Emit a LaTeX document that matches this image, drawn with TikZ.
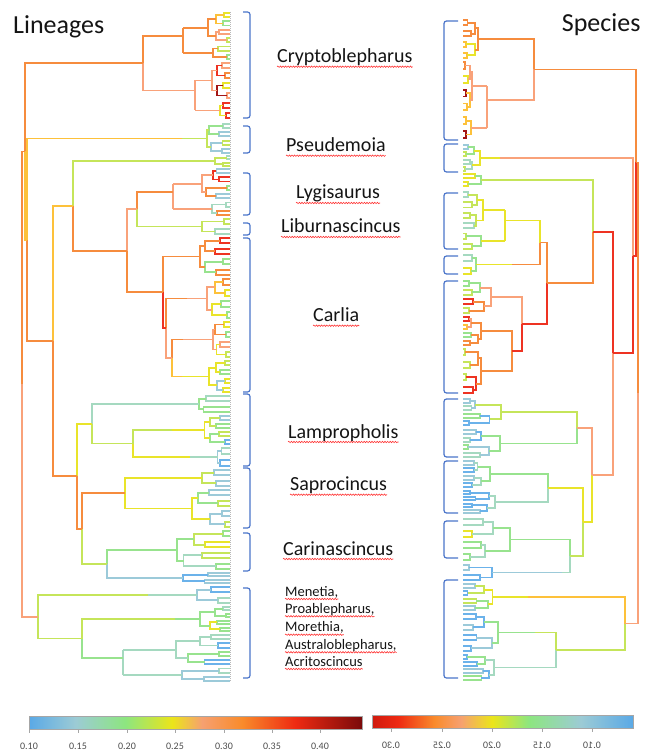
\documentclass[tikz,border=0pt]{standalone}
\usepackage{fontspec}
\setmainfont{Carlito}
\usetikzlibrary{decorations.pathmorphing}

\definecolor{tdr}{HTML}{A31515}
\definecolor{tr}{HTML}{EE3322}
\definecolor{tor}{HTML}{F68C3E}
\definecolor{tsa}{HTML}{F9A27A}
\definecolor{tyo}{HTML}{FDC13A}
\definecolor{ty}{HTML}{E9E42A}
\definecolor{tyg}{HTML}{C5E55A}
\definecolor{tg}{HTML}{98E38E}
\definecolor{tgc}{HTML}{A5D9C0}
\definecolor{tc}{HTML}{9CCAD9}
\definecolor{tb}{HTML}{6BB2EA}
\definecolor{bracecol}{HTML}{4A74C9}
\definecolor{cbb}{HTML}{5AA9E6}
\definecolor{cbc}{HTML}{9CCBD5}
\definecolor{cbg}{HTML}{8DE67F}
\definecolor{cby}{HTML}{EBE51A}
\definecolor{cbs}{HTML}{F6A070}
\definecolor{cbo}{HTML}{F98B2B}
\definecolor{cbr}{HTML}{EE2A12}
\definecolor{cbd}{HTML}{7A0A0A}
\definecolor{cbdr}{HTML}{D01A0E}

\pgfdeclarehorizontalshading{linbar}{100bp}{color(0bp)=(cbb); color(25bp)=(cbb);
  color(32bp)=(cbc); color(39.5bp)=(cbg); color(46.5bp)=(cby); color(51bp)=(cbs);
  color(57bp)=(cbo); color(65bp)=(cbr); color(75bp)=(cbd); color(100bp)=(cbd)}
\pgfdeclarehorizontalshading{spbar}{100bp}{color(0bp)=(cbdr); color(25bp)=(cbdr);
  color(30bp)=(cbr); color(37bp)=(cbo); color(42bp)=(cbs); color(48bp)=(cby);
  color(55bp)=(cbg); color(65bp)=(cbc); color(75bp)=(cbb); color(100bp)=(cbb)}

\pgfmathdeclarerandomlist{crypto}{{tg}{ty}{tyo}{tsa}{tor}{tyg}{tg}}
\pgfmathdeclarerandomlist{cryptoR}{{tr}{tor}{tdr}{tsa}{ty}{tyo}}
\pgfmathdeclarerandomlist{pseud}{{tg}{tgc}{tc}{tyg}}
\pgfmathdeclarerandomlist{lyg}{{tg}{tgc}{tor}{tr}{ty}{tc}}
\pgfmathdeclarerandomlist{warm}{{tor}{tsa}{ty}{tyg}{tg}{tr}{tyo}}
\pgfmathdeclarerandomlist{cool}{{tc}{tb}{tg}{tgc}}
\pgfmathdeclarerandomlist{mixed}{{ty}{tg}{tc}{tb}{tyg}}
\pgfmathdeclarerandomlist{green}{{tg}{tyg}{ty}{tgc}}
\pgfmathdeclarerandomlist{blue}{{tb}{tc}}

% four leaves: two cherries and their parent
\newcommand\cquad[3]{%
  \pgfmathsetmacro\qya{#1}\pgfmathsetmacro\qyb{#1+\clh}%
  \pgfmathsetmacro\qyc{#1+2*\clh}\pgfmathsetmacro\qyd{#1+3*\clh}%
  \pgfmathsetmacro\qda{\cDD*(0.05+0.22*rnd)}%
  \pgfmathsetmacro\qdb{\cDD*(0.05+0.22*rnd)}%
  \pgfmathsetmacro\qdq{max(\qda,\qdb)+\cDD*(0.04+0.18*rnd)}%
  \pgfmathsetmacro\qxa{#2-(\csg)*\qda}%
  \pgfmathsetmacro\qxb{#2-(\csg)*\qdb}%
  \pgfmathsetmacro\qxq{#2-(\csg)*\qdq}%
  \pgfmathsetmacro\qma{#1+0.5*\clh}\pgfmathsetmacro\qmb{#1+2.5*\clh}%
  \pgfmathsetmacro\qmq{#1+1.5*\clh}%
  \pgfmathrandomitem{\qca}{#3}\pgfmathrandomitem{\qcb}{#3}\pgfmathrandomitem{\qcc}{#3}%
  \draw[br,color=\qca] (#2,\qya) -| (\qxa,\qyb) -- (#2,\qyb);
  \draw[br,color=\qcb] (#2,\qyc) -| (\qxb,\qyd) -- (#2,\qyd);
  \draw[br,color=\qcc] (\qxa,\qma) -| (\qxq,\qmb) -- (\qxb,\qmb);
  \xdef\gdq{\qdq}\xdef\gqm{\qmq}%
}

% clade: name, tip x, first leaf y, last leaf y, node x, quads, palette, colour
\newcommand\clade[8]{%
  \pgfmathsetmacro\clh{(#4-#3)/(4*#6-1)}%
  \pgfmathsetmacro\cDD{abs(#5-#2)}%
  \pgfmathsetmacro\csg{sign(#2-#5)}%
  \pgfmathtruncatemacro\clast{(#6+1)/2-1}%
  \foreach \oc in {0,...,\clast}{%
    \pgfmathtruncatemacro\qqa{2*\oc}%
    \pgfmathtruncatemacro\qqb{2*\oc+1}%
    \cquad{#3+4*\qqa*\clh}{#2}{#7}%
    \let\dA\gdq\let\mA\gqm
    \ifnum\qqb<#6\relax
      \cquad{#3+4*\qqb*\clh}{#2}{#7}%
      \let\dB\gdq\let\mB\gqm
      \pgfmathsetmacro\dO{max(\dA,\dB)+\cDD*(0.04+0.16*rnd)}%
      \pgfmathsetmacro\mO{(\mA+\mB)/2}%
      \pgfmathsetmacro\xA{#2-(\csg)*\dA}\pgfmathsetmacro\xB{#2-(\csg)*\dB}%
      \pgfmathsetmacro\xO{#2-(\csg)*\dO}%
      \draw[br,color=#8] (\xA,\mA) -| (\xO,\mB) -- (\xB,\mB);
    \else
      \pgfmathsetmacro\xO{#2-(\csg)*\dA}\let\mO\mA
    \fi
    \draw[br,color=#8] (\xO,\mO) -- (#5,\mO);
  }%
  \ifnum#6>1\relax
    \pgfmathsetmacro\yfa{#3+3.5*\clh}%
    \ifodd#6\relax\pgfmathsetmacro\yfb{#3+(4*#6-2.5)*\clh}\else\pgfmathsetmacro\yfb{#3+(4*#6-4.5)*\clh}\fi
    \draw[br,color=#8] (#5,\yfa) -- (#5,\yfb);
  \fi
  \coordinate (#1) at (#5,{(#3+#4)/2});
}

\newcommand\joinc[3]{\draw[br,color=#3] (#1) -| (#2);}

\begin{document}
\begin{tikzpicture}[x=1pt,y=-1pt,
  br/.style={line width=1.9pt},
  brk/.style={draw=bracecol,line width=1.2pt,rounded corners=2.5pt},
  lbl/.style={anchor=base west,inner sep=0pt,text=black!92,font=\fontsize{20}{24}\selectfont},
  menlbl/.style={lbl,font=\fontsize{14.5}{17}\selectfont},
  ttl/.style={lbl,font=\fontsize{26}{30}\selectfont},
  squig/.style={draw=red!80,line width=0.6pt,decorate,decoration={snake,amplitude=0.7pt,segment length=2.6pt}},
  ticklbl/.style={inner sep=0pt,text=black!70,font=\fontsize{10}{11}\selectfont}]
\useasboundingbox (0,0) rectangle (653,751);
\pgfmathsetseed{12}

\node[ttl] (lin) at (13,33.3) {Lineages};
\node[ttl] (spe) at (561.7,31.7) {Species};

% lineages tree
\draw[gray!55,dash pattern=on 1pt off 1pt,line width=0.7pt] (230,12) -- (230,681);
\clade{crA}{230}{13}{59}{183}{3}{crypto}{tor}
\clade{crB}{230}{63}{118}{195}{3}{cryptoR}{tsa}
\clade{ps}{230}{124}{153}{182}{2}{pseud}{tyg}
\clade{yg}{230}{156}{166}{172}{1}{green}{tyg}
\clade{lyg}{230}{169}{215}{173}{3}{lyg}{tsa}
\clade{lib}{230}{219}{234}{168}{1}{green}{tyg}
\clade{caA}{230}{238}{275}{172}{2}{warm}{tor}
\clade{caB}{230}{279}{318}{187}{2}{warm}{tsa}
\clade{caC}{230}{322}{357}{183}{2}{warm}{tsa}
\clade{caD}{230}{361}{392}{182}{2}{mixed}{ty}
\clade{laA}{230}{396}{412}{122}{1}{cool}{tgc}
\clade{laB}{230}{416}{444}{172}{2}{mixed}{ty}
\clade{laC}{230}{448}{466}{190}{1}{cool}{tgc}
\clade{saA}{230}{470}{486}{155}{1}{mixed}{ty}
\clade{saB}{230}{490}{527}{148}{2}{mixed}{ty}
\clade{ciA}{230}{531}{569}{125}{2}{green}{tg}
\clade{ciB}{230}{573}{583}{112}{1}{blue}{tc}
\clade{meA}{230}{587}{603}{148}{1}{cool}{tgc}
\clade{meB}{230}{607}{631}{175}{2}{green}{tg}
\clade{meC}{230}{635}{681}{123}{3}{cool}{tgc}

\coordinate (c0) at (143,63.25);
\coordinate (ll) at (137,209.25);
\coordinate (cacd) at (172,358);
\coordinate (cabcd) at (166,328.25);
\coordinate (ca) at (163,292.4);
\coordinate (n127) at (127,250.8);
\coordinate (n73) at (73,205.9);
\coordinate (lbc) at (133,443.5);
\coordinate (la) at (92,423.75);
\coordinate (sa) at (125,493.25);
\coordinate (ci) at (107,564);
\coordinate (n82) at (82,528.6);
\coordinate (n77) at (77,476.2);
\coordinate (n53) at (53,341);
\coordinate (n26) at (27,239.75);
\coordinate (ntop) at (25,151.5);
\coordinate (mbc) at (82,638.5);
\coordinate (me) at (38,616.75);
\coordinate (root) at (22,384);
\joinc{crA}{c0}{tor}\joinc{crB}{c0}{tsa}
\joinc{lyg}{ll}{tor}\joinc{lib}{ll}{tyg}
\joinc{caC}{cacd}{tor}\joinc{caD}{cacd}{tyo}
\joinc{caB}{cabcd}{tor}\joinc{cacd}{cabcd}{tsa}
\joinc{caA}{ca}{tor}\joinc{cabcd}{ca}{tr}
\joinc{ll}{n127}{tsa}\joinc{ca}{n127}{tor}
\joinc{yg}{n73}{tyg}\joinc{n127}{n73}{tor}
\joinc{laB}{lbc}{tyg}\joinc{laC}{lbc}{ty}
\joinc{laA}{la}{tgc}\joinc{lbc}{la}{tyg}
\joinc{saA}{sa}{ty}\joinc{saB}{sa}{ty}
\joinc{ciA}{ci}{tg}\joinc{ciB}{ci}{tc}
\joinc{sa}{n82}{tor}\joinc{ci}{n82}{tyg}
\joinc{la}{n77}{ty}\joinc{n82}{n77}{tor}
\joinc{n73}{n53}{tyo}\joinc{n77}{n53}{tor}
\joinc{ps}{n26}{tyo}\joinc{n53}{n26}{tor}
\joinc{c0}{ntop}{tor}\joinc{n26}{ntop}{tyo}
\joinc{meB}{mbc}{tyg}\joinc{meC}{mbc}{tg}
\joinc{meA}{me}{tyg}\joinc{mbc}{me}{tyg}
\joinc{ntop}{root}{tor}\joinc{me}{root}{tsa}

% species tree
\clade{rcrA}{463}{20}{58}{500}{2}{crypto}{tor}
\clade{rcrB}{463}{62}{138}{487}{3}{cryptoR}{tsa}
\clade{rps}{463}{145}{171}{500}{2}{pseud}{ty}
\clade{ryg}{463}{174}{186}{508}{1}{green}{tyg}
\clade{rlyg}{463}{192}{249}{505}{3}{green}{ty}
\clade{rlib}{463}{255}{274}{512}{1}{green}{ty}
\clade{rcaA}{463}{281}{313}{517}{2}{warm}{tsa}
\clade{rcaB}{463}{317}{345}{498}{2}{warm}{tor}
\clade{rcaC}{463}{349}{393}{505}{2}{warm}{tor}
\clade{rlaA}{463}{399}{425}{552}{2}{cool}{tyg}
\clade{rlaB}{463}{430}{457}{545}{2}{cool}{tg}
\clade{rsaA}{463}{461}{487}{523}{2}{cool}{tg}
\clade{rsaB}{463}{491}{513}{528}{2}{blue}{tgc}
\clade{rciA}{463}{519}{560}{548}{2}{green}{tg}
\clade{rciB}{463}{565}{580}{562}{1}{blue}{tc}
\clade{rmeA}{463}{584}{610}{528}{2}{mixed}{ty}
\clade{rmeB}{463}{614}{651}{535}{2}{cool}{tg}
\clade{rmeC}{463}{655}{680}{538}{2}{cool}{tgc}

\coordinate (rc0) at (534,69.5);
\coordinate (rn540) at (540,242.5);
\coordinate (rcabc) at (512,351);
\coordinate (rca) at (522,324);
\coordinate (rn547) at (547,283.25);
\coordinate (rn593) at (593,231.6);
\coordinate (rla) at (577,427.75);
\coordinate (rsa) at (548,488);
\coordinate (rci) at (570,556);
\coordinate (rn587) at (583,522);
\coordinate (rn592) at (592,474.9);
\coordinate (rn613) at (613,353.25);
\coordinate (rn1) at (633,255.6);
\coordinate (rn2) at (636,162.5);
\coordinate (rmbc) at (556,650);
\coordinate (rme) at (625,623.5);
\coordinate (rroot) at (638,393);
\joinc{rcrA}{rc0}{tor}\joinc{rcrB}{rc0}{tsa}
\joinc{rlyg}{rn540}{ty}\joinc{rlib}{rn540}{tor}
\joinc{rcaB}{rcabc}{tor}\joinc{rcaC}{rcabc}{tor}
\joinc{rcaA}{rca}{tsa}\joinc{rcabc}{rca}{tr}
\joinc{rn540}{rn547}{tor}\joinc{rca}{rn547}{tr}
\joinc{ryg}{rn593}{tyg}\joinc{rn547}{rn593}{tor}
\joinc{rlaA}{rla}{tyg}\joinc{rlaB}{rla}{tg}
\joinc{rsaA}{rsa}{tg}\joinc{rsaB}{rsa}{tgc}
\joinc{rciA}{rci}{tg}\joinc{rciB}{rci}{tgc}
\joinc{rsa}{rn587}{ty}\joinc{rci}{rn587}{tyg}
\joinc{rla}{rn592}{tsa}\joinc{rn587}{rn592}{ty}
\joinc{rn593}{rn613}{tr}\joinc{rn592}{rn613}{tsa}
\joinc{rps}{rn1}{tsa}\joinc{rn613}{rn1}{tr}
\joinc{rc0}{rn2}{tor}\joinc{rn1}{rn2}{tr}
\joinc{rmeB}{rmbc}{tyg}\joinc{rmeC}{rmbc}{tgc}
\joinc{rmeA}{rme}{tyo}\joinc{rmbc}{rme}{tyg}
\joinc{rn2}{rroot}{tor}\joinc{rme}{rroot}{tsa}

% brackets
\foreach \ya/\yb in {12/118,126/153,173/215,223/235,238/392,394/466,468/528,533/571,588/678}
  \draw[brk] (243,\ya) -- (250,\ya) -- (250,\yb) -- (243,\yb);
\foreach \ya/\yb in {21/140,144/172,193/249,256/274,281/393,399/457,461/513,521/558,580/678}
  \draw[brk] (458,\ya) -- (444,\ya) -- (444,\yb) -- (458,\yb);

% genus labels
\node[lbl] (crypto) at (277,62.7) {Cryptoblepharus};
\node[lbl] (pseud) at (286,151.7) {Pseudemoia};
\node[lbl] (lygis) at (296,199) {Lygisaurus};
\node[lbl] (libur) at (281,233) {Liburnascincus};
\node[lbl] (carlia) at (313,321.7) {Carlia};
\node[lbl] (lampr) at (288,438) {Lampropholis};
\node[lbl] (sapro) at (290,490.7) {Saprocincus};
\node[lbl] (carin) at (283,555) {Carinascincus};
\node[menlbl] (men) at (285,596) {Menetia,};
\node[menlbl] (proab) at (285,613.3) {Proablepharus,};
\node[menlbl] (moret) at (285,631.7) {Morethia,};
\node[menlbl] (austr) at (285,649.3) {Australoblepharus,};
\node[menlbl] (acrit) at (285,666) {Acritoscincus};
\foreach \n in {crypto,pseud,lygis,libur,carlia,lampr,sapro,carin}
  \draw[squig] ([yshift=-4pt]\n.base west) -- ([yshift=-4pt]\n.base east);
\foreach \n in {men,proab,moret,austr,acrit}
  \draw[squig] ([yshift=-3pt]\n.base west) -- ([yshift=-3pt]\n.base east);

% colour bars
\shade[shading=linbar,draw=gray!70] (29,716) rectangle (362,729);
\foreach \x/\v in {29/0.10,78/0.15,127/0.20,175/0.25,224/0.30,272/0.35,320/0.40}{
  \draw[gray!70,line width=0.6pt] (\x,729) -- (\x,733);
  \node[ticklbl] (lt\x) at (\x,746) {\v};
}
\shade[shading=spbar,draw=gray!70] (372,715) rectangle (633,728);
\foreach \x/\v in {391/0.30,442/0.25,492/0.20,542/0.15,592/0.10}{
  \draw[gray!70,line width=0.6pt] (\x,728) -- (\x,732);
  \node[ticklbl,xscale=-1] (rt\x) at (\x,745) {\v};
}
\end{tikzpicture}
\end{document}
